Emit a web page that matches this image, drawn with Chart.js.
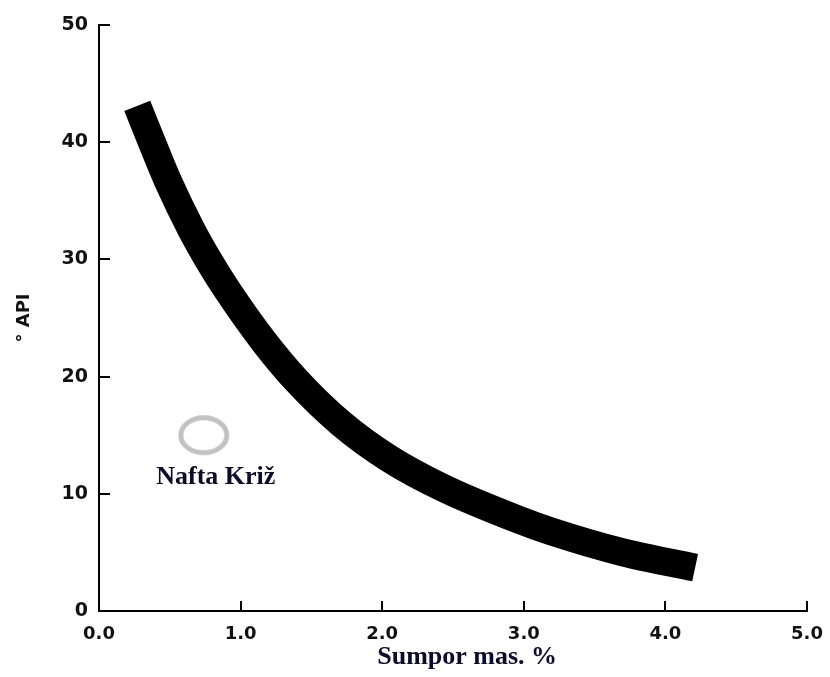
<!DOCTYPE html>
<html>
<head>
<meta charset="utf-8">
<script src="https://cdn.jsdelivr.net/npm/chart.js@4/dist/chart.umd.min.js"></script>
<style>
  html, body { margin: 0; padding: 0; background: #ffffff; }
  #wrap { width: 830px; height: 677px; }
</style>
</head>
<body>
<div id="wrap"><canvas id="c" width="830" height="677"></canvas></div>
<script>
// ---- data ----
const bandSulfur = [0.27, 0.37, 0.49, 0.65, 0.78, 0.91, 1.17, 1.40, 1.71, 2.05, 2.43, 2.96, 3.19, 3.70, 4.21];
const bandApi    = [43.1, 40.1, 36.6, 32.6, 29.8, 27.3, 22.9, 19.6, 16.0, 13.0, 10.5, 7.8, 6.8, 5.0, 3.7];
const krizSulfur = [0.74];
const krizApi    = [15.0];
const krizLabel  = 'Nafta Križ';
const xTickValues = [0, 1, 2, 3, 4, 5];
const xTickLabels = ['0.0', '1.0', '2.0', '3.0', '4.0', '5.0'];
const yTickValues = [0, 10, 20, 30, 40, 50];
const yTickLabels = ['0', '10', '20', '30', '40', '50'];
const xTitle = 'Sumpor mas. %';
const yTitle = '° API';

// ring-shaped marker (grey ellipse outline)
const ring = document.createElement('canvas');
ring.width = 58; ring.height = 46;
(function () {
  const g = ring.getContext('2d');
  g.strokeStyle = '#c2c2c2';
  g.lineWidth = 5;
  g.beginPath();
  g.ellipse(29, 23, 23, 17.5, 0, 0, Math.PI * 2);
  g.stroke();
})();

const tickMarks = {
  id: 'tickMarks',
  afterDraw(chart) {
    const {ctx, chartArea, scales} = chart;
    ctx.save();
    ctx.strokeStyle = '#000';
    ctx.lineWidth = 2;
    yTickValues.forEach(v => {
      if (v === 0) return;
      const y = Math.round(scales.y.getPixelForValue(v));
      ctx.beginPath();
      ctx.moveTo(chartArea.left, y);
      ctx.lineTo(chartArea.left + 11, y);
      ctx.stroke();
    });
    xTickValues.forEach(v => {
      if (v === 0) return;
      const x = Math.round(scales.x.getPixelForValue(v));
      ctx.beginPath();
      ctx.moveTo(x, chartArea.bottom);
      ctx.lineTo(x, chartArea.bottom - 10);
      ctx.stroke();
    });
    // label for the marker
    const lx = scales.x.getPixelForValue(krizSulfur[0]);
    const ly = scales.y.getPixelForValue(krizApi[0]);
    ctx.fillStyle = '#0b0b2a';
    ctx.font = 'bold 26px "Liberation Serif", "Times New Roman", serif';
    ctx.textAlign = 'center';
    ctx.textBaseline = 'middle';
    ctx.fillText(krizLabel, lx + 12, ly + 42);
    // x axis title, centred where the reference has it
    ctx.font = 'bold 26px "Liberation Serif", "Times New Roman", serif';
    ctx.fillText(xTitle, scales.x.getPixelForValue(2.6), 657);
    ctx.restore();
  }
};

new Chart(document.getElementById('c'), {
  type: 'scatter',
  data: {
    datasets: [
      {
        type: 'line',
        label: 'band',
        data: bandSulfur.map((s, i) => ({x: s, y: bandApi[i]})),
        borderColor: '#000',
        backgroundColor: '#000',
        borderWidth: 28,
        borderCapStyle: 'butt',
        borderJoinStyle: 'round',
        cubicInterpolationMode: 'monotone',
        pointRadius: 0,
        fill: false,
        clip: false
      },
      {
        label: krizLabel,
        data: krizSulfur.map((s, i) => ({x: s, y: krizApi[i]})),
        pointStyle: ring,
        pointRadius: 22,
        pointHoverRadius: 22
      }
    ]
  },
  plugins: [tickMarks],
  options: {
    responsive: false,
    animation: false,
    events: [],
    layout: { padding: { top: 25, right: 23, left: 0, bottom: 0 } },
    plugins: { legend: { display: false }, tooltip: { enabled: false } },
    scales: {
      x: {
        type: 'linear',
        min: 0, max: 5,
        afterFit(scale) { scale.height = 66; },
        afterBuildTicks(scale) { scale.ticks = xTickValues.map(v => ({value: v})); },
        grid: { display: false },
        border: { display: true, color: '#000', width: 2 },
        ticks: {
          color: '#111',
          padding: 5,
          maxRotation: 0,
          font: { family: '"DejaVu Sans", sans-serif', size: 18, weight: 'bold' },
          callback: (v) => xTickLabels[xTickValues.indexOf(v)]
        },
        title: { display: false, text: xTitle }
      },
      y: {
        type: 'linear',
        min: 0, max: 50,
        afterFit(scale) { scale.width = 99; },
        afterBuildTicks(scale) { scale.ticks = yTickValues.map(v => ({value: v})); },
        grid: { display: false },
        border: { display: true, color: '#000', width: 2 },
        ticks: {
          color: '#111',
          padding: 3,
          font: { family: '"DejaVu Sans", sans-serif', size: 19, weight: 'bold' },
          callback: (v) => yTickLabels[yTickValues.indexOf(v)]
        },
        title: {
          display: true,
          text: yTitle,
          color: '#111',
          font: { family: '"DejaVu Sans", sans-serif', size: 18, weight: 'bold' },
          padding: { top: 14, bottom: 0 }
        }
      }
    }
  }
});
</script>
</body>
</html>
